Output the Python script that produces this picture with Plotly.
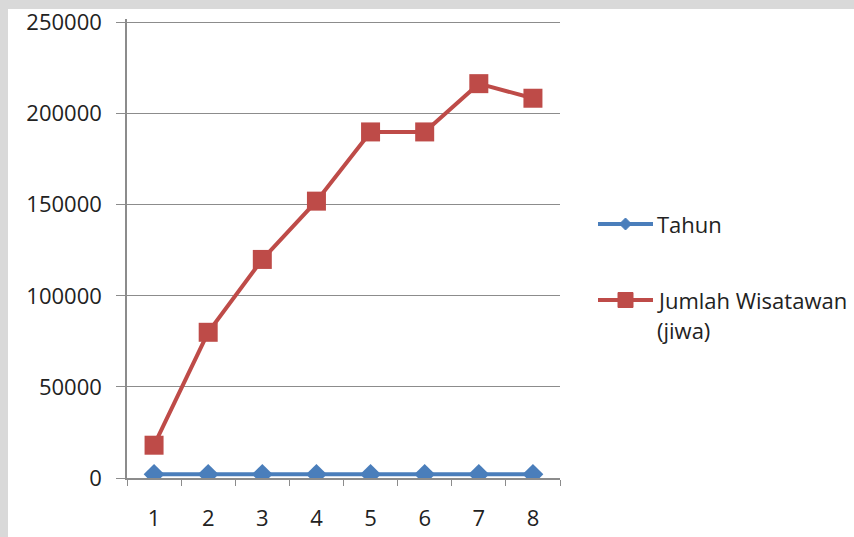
import plotly.graph_objects as go

# Data
categories = ["1", "2", "3", "4", "5", "6", "7", "8"]
tahun = [2003, 2004, 2005, 2006, 2007, 2008, 2009, 2010]
jumlah_wisatawan = [18000, 80000, 120000, 152000, 190000, 190000, 216500, 208500]
y_ticks = [0, 50000, 100000, 150000, 200000, 250000]

W, H = 854, 537
L, R, T, B = 127, 294, 19, 59
pw, ph = W - L - R, H - T - B

def px_x(p):
    return (p - L) / pw

def px_y(p):
    return (H - B - p) / ph

BLUE = "#4a7ebb"
RED = "#be4b48"
font = dict(family="Open Sans, Lato, sans-serif", size=22, color="#222222")

fig = go.Figure()
fig.add_trace(go.Scatter(
    x=categories, y=tahun, name="Tahun", mode="lines+markers",
    line=dict(color=BLUE, width=4),
    marker=dict(symbol="diamond", size=16, color=BLUE),
))
fig.add_trace(go.Scatter(
    x=categories, y=jumlah_wisatawan, name="Jumlah Wisatawan (jiwa)",
    mode="lines+markers",
    line=dict(color=RED, width=4),
    marker=dict(symbol="square", size=19, color=RED),
))

# outer frame: grey strip on the top and left edges
fig.add_shape(type="rect", xref="paper", yref="paper", layer="below",
              x0=px_x(8), x1=px_x(W + 5), y0=px_y(H + 5), y1=px_y(9),
              fillcolor="white", line=dict(width=0))

# legend keys drawn in pixel positions to the right of the plot
def legend_key(yc, color, symbol):
    fig.add_shape(type="line", xref="paper", yref="paper",
                  x0=px_x(598), x1=px_x(653), y0=px_y(yc), y1=px_y(yc),
                  line=dict(color=color, width=4))
    cx = 625.5
    if symbol == "diamond":
        s = 6
        path = (f"M {px_x(cx - s)} {px_y(yc)} L {px_x(cx)} {px_y(yc - s)} "
                f"L {px_x(cx + s)} {px_y(yc)} L {px_x(cx)} {px_y(yc + s)} Z")
    else:
        s = 7.5
        path = (f"M {px_x(cx - s)} {px_y(yc - s)} L {px_x(cx + s)} {px_y(yc - s)} "
                f"L {px_x(cx + s)} {px_y(yc + s)} L {px_x(cx - s)} {px_y(yc + s)} Z")
    fig.add_shape(type="path", xref="paper", yref="paper", path=path,
                  fillcolor=color, line=dict(color=color, width=1))

legend_key(224, BLUE, "diamond")
legend_key(300, RED, "square")
for text, yc in [("Tahun", 224), ("Jumlah Wisatawan", 300), ("(jiwa)", 330)]:
    fig.add_annotation(x=px_x(655), y=px_y(yc), xref="paper", yref="paper",
                       text=text, showarrow=False, xanchor="left",
                       yanchor="middle", font=font)

fig.update_layout(
    width=W, height=H,
    margin=dict(l=L, r=R, t=T, b=B),
    paper_bgcolor="#d9d9d9",
    plot_bgcolor="white",
    font=font,
    showlegend=False,
    xaxis=dict(
        type="category", range=[-0.5, 7.5], automargin=False,
        showgrid=False, showline=True, linecolor="#8c8c8c", linewidth=1.5,
        ticks="outside", tickson="boundaries", ticklen=6, tickcolor="#8c8c8c",
        ticklabelstandoff=20, zeroline=False,
    ),
    yaxis=dict(
        range=[0, 252000], tickvals=y_ticks, automargin=False,
        ticktext=[str(v) for v in y_ticks],
        showgrid=True, gridcolor="#8c8c8c", gridwidth=1.2,
        showline=True, linecolor="#8c8c8c", linewidth=1.5,
        ticks="outside", ticklen=9, tickcolor="#8c8c8c",
        ticklabelstandoff=10, zeroline=False,
    ),
)

fig.write_html("out.html")
